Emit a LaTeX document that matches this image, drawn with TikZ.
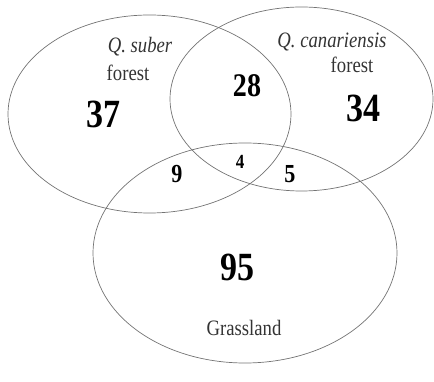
\documentclass[tikz,border=0pt]{standalone}
\usepackage{fontspec}
\setmainfont{Liberation Serif}[FakeStretch=0.85]
\usepackage{tikz}
\usetikzlibrary{positioning}

\begin{document}
\begin{tikzpicture}[x=1pt,y=-1pt]
  \useasboundingbox (0,0) rectangle (434,382);
  \tikzset{
    setline/.style={line width=0.7pt,black!55},
    bignum/.style={font=\fontsize{40}{40}\selectfont\bfseries,inner sep=0pt},
    midnum/.style={font=\fontsize{33}{33}\selectfont\bfseries,inner sep=0pt},
    smallnum/.style={font=\fontsize{26}{26}\selectfont\bfseries,inner sep=0pt},
    setname/.style={font=\fontsize{22}{22}\selectfont,black!80,inner sep=0pt}
  }
  % the three sets
  \draw[setline] (149.5,114) ellipse [x radius=141.5pt, y radius=99pt];
  \draw[setline] (301.5,99) ellipse [x radius=131.5pt, y radius=92pt];
  \draw[setline] (245,253) ellipse [x radius=152pt, y radius=110pt];
  % labels
  \node[setname,anchor=base] (suber) at (140,53) {\itshape Q. suber};
  \node[setname,anchor=base] (suberf) at (128,81) {forest};
  \node[setname,anchor=base] (canar) at (332,48) {\itshape Q. canariensis};
  \node[setname,anchor=base] (canarf) at (352,73) {forest};
  \node[setname,anchor=base] (grass) at (244,335) {Grassland};
  % counts
  \node[bignum] (n37) at (103,114) {37};
  \node[bignum] (n34) at (363,108) {34};
  \node[bignum] (n95) at (237,267) {95};
  \node[midnum] (n28) at (247,86) {28};
  \node[smallnum] (n9) at (177,174) {9};
  \node[smallnum] (n5) at (290,174) {5};
  \node[font=\fontsize{20}{20}\selectfont\bfseries,inner sep=0pt] (n4) at (240,162) {4};
\end{tikzpicture}
\end{document}
